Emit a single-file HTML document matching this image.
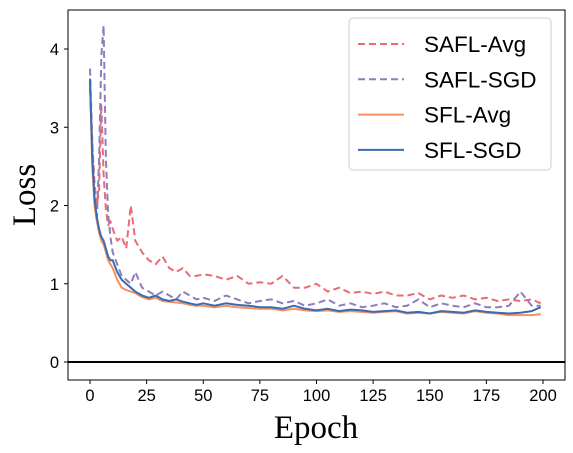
<!DOCTYPE html>
<html><head><meta charset="utf-8"><style>
body{margin:0;background:#fff;}
svg{display:block;font-family:"Liberation Sans",sans-serif;}
</style></head><body>
<svg id="chart" width="573" height="453" viewBox="0 0 573 453" xmlns="http://www.w3.org/2000/svg">
<rect x="0" y="0" width="573" height="453" fill="#fff"/>
<g id="marks"></g>
<g id="axes"></g>
</svg>
<script>
const epochs=[0,1,2,3,4,5,6,7,8,9,10,12,14,16,18,20,23,26,29,32,35,38,41,44,47,50,55,60,65,70,75,80,85,90,95,100,105,110,115,120,125,130,135,140,145,150,155,160,165,170,175,180,185,190,195,199];
const saflAvg=[3.5,2.8,2.3,2.0,2.2,3.3,2.4,1.95,1.75,1.8,1.7,1.55,1.6,1.45,2.0,1.55,1.4,1.3,1.25,1.35,1.2,1.15,1.2,1.1,1.1,1.12,1.1,1.05,1.1,1.0,1.02,1.0,1.1,0.95,0.95,1.0,0.9,0.95,0.88,0.9,0.87,0.9,0.85,0.85,0.88,0.8,0.85,0.82,0.85,0.8,0.82,0.78,0.8,0.78,0.8,0.75];
const saflSgd=[3.75,2.8,2.1,1.8,2.6,3.9,4.3,2.6,1.9,1.6,1.4,1.25,1.1,1.05,1.0,1.15,0.95,0.9,0.85,0.9,0.85,0.8,0.9,0.85,0.8,0.82,0.78,0.85,0.8,0.75,0.78,0.8,0.75,0.78,0.72,0.75,0.8,0.72,0.75,0.7,0.72,0.75,0.7,0.72,0.8,0.7,0.75,0.72,0.7,0.75,0.7,0.7,0.72,0.9,0.72,0.72];
const sflAvg=[3.6,2.5,2.0,1.8,1.65,1.55,1.5,1.4,1.3,1.25,1.2,1.05,0.95,0.92,0.9,0.88,0.83,0.8,0.82,0.78,0.77,0.76,0.75,0.73,0.72,0.72,0.7,0.72,0.7,0.69,0.68,0.68,0.66,0.68,0.66,0.65,0.66,0.64,0.65,0.64,0.63,0.64,0.65,0.62,0.63,0.62,0.64,0.63,0.62,0.65,0.63,0.62,0.6,0.6,0.6,0.61];
const sflSgd=[3.62,2.6,2.1,1.85,1.7,1.6,1.55,1.45,1.35,1.3,1.3,1.15,1.05,1.0,0.95,0.9,0.85,0.82,0.85,0.8,0.78,0.8,0.77,0.75,0.73,0.75,0.72,0.75,0.73,0.72,0.7,0.7,0.68,0.72,0.68,0.66,0.68,0.65,0.67,0.66,0.64,0.65,0.66,0.63,0.64,0.62,0.65,0.64,0.63,0.66,0.64,0.63,0.62,0.63,0.65,0.7];
const xTicks=[0,25,50,75,100,125,150,175,200];
const yTicks=[0,1,2,3,4];
const seriesNames=["SAFL-Avg","SAFL-SGD","SFL-Avg","SFL-SGD"];

const NS="http://www.w3.org/2000/svg";
const L=68,R=565,T=10,B=380;
function xs(v){return 90+v*(543-90)/200;}
function ys(v){return 362-v*78.25;}
function mk(tag,attrs,parent){const e=document.createElementNS(NS,tag);for(const k in attrs)e.setAttribute(k,attrs[k]);parent.appendChild(e);return e;}
const marks=document.getElementById('marks'),axes=document.getElementById('axes');

const styles=[
 {data:saflAvg,color:"#ea6b73",dash:"7,4",name:"safl-avg-line"},
 {data:saflSgd,color:"#8e7dbe",dash:"7,4",name:"safl-sgd-line"},
 {data:sflAvg,color:"#f79060",dash:"",name:"sfl-avg-line"},
 {data:sflSgd,color:"#3a6bb0",dash:"",name:"sfl-sgd-line"}];
styles.forEach(s=>{
 const d=epochs.map((e,i)=>(i?"L":"M")+xs(e).toFixed(1)+","+ys(s.data[i]).toFixed(1)).join(" ");
 const p=mk('path',{d:d,fill:"none",stroke:s.color,"stroke-width":2,"stroke-dasharray":s.dash,"stroke-linejoin":"round"},marks);
 
 
});
const z=mk('line',{x1:L,x2:R,y1:ys(0),y2:ys(0),stroke:"#000","stroke-width":2},axes);


const fr=mk('rect',{x:L,y:T,width:R-L,height:B-T,fill:"none",stroke:"#000","stroke-width":1},axes);


xTicks.forEach(t=>{
 mk('line',{x1:xs(t),x2:xs(t),y1:B,y2:B+4,stroke:"#000"},axes);
 const tx=mk('text',{x:xs(t),y:B+21,"text-anchor":"middle","font-size":16.5},axes);
 tx.textContent=t;
 
 
});
yTicks.forEach(t=>{
 mk('line',{x1:L-4,x2:L,y1:ys(t),y2:ys(t),stroke:"#000"},axes);
 const tx=mk('text',{x:L-9,y:ys(t)+6,"text-anchor":"end","font-size":16.5},axes);
 tx.textContent=t;
 
 
});
const xt=mk('text',{x:316,y:438,"text-anchor":"middle","font-size":33,"font-family":"Liberation Serif, serif"},axes);
xt.textContent="Epoch";


const yt=mk('text',{x:0,y:0,"text-anchor":"middle","font-size":33,"font-family":"Liberation Serif, serif",transform:"translate(35,195) rotate(-90)"},axes);
yt.textContent="Loss";


const lg=mk('g',{},axes);


mk('rect',{x:349,y:18,width:202,height:152,rx:4,fill:"#fff","fill-opacity":0.85,stroke:"#ccc"},lg);
styles.forEach((s,i)=>{
 const y=44+i*35.3;
 mk('line',{x1:358,x2:404,y1:y,y2:y,stroke:s.color,"stroke-width":2,"stroke-dasharray":s.dash},lg);
 const t=mk('text',{x:424,y:y+8,"font-size":22.5},lg);
 t.textContent=seriesNames[i];
 
 
});
</script>
</body></html>
